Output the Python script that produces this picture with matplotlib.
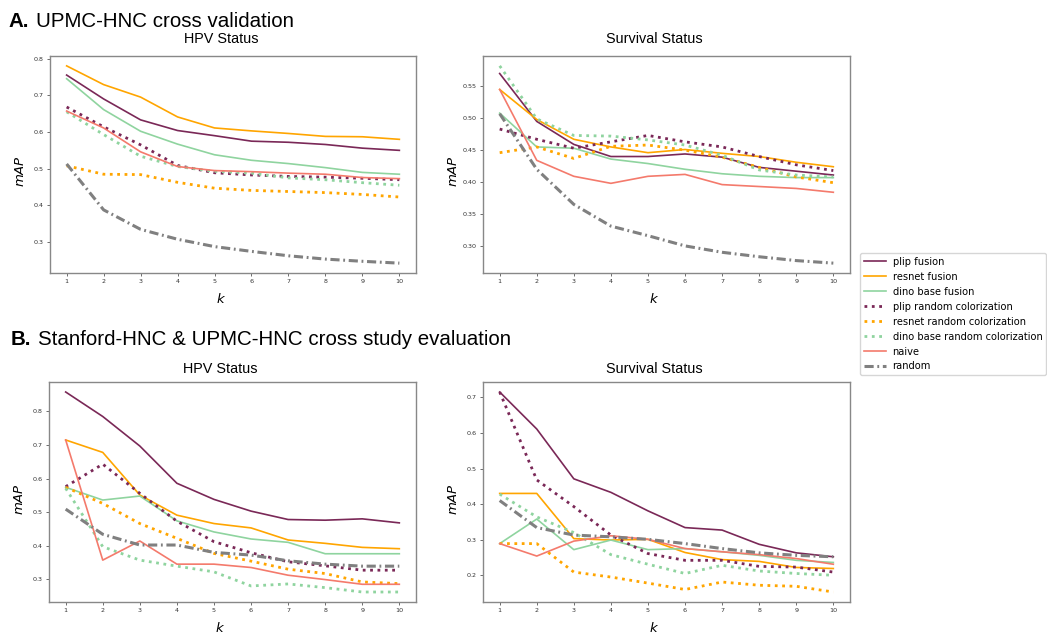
import matplotlib.pyplot as plt
from matplotlib.ticker import MultipleLocator

k = [1, 2, 3, 4, 5, 6, 7, 8, 9, 10]

# A. UPMC-HNC cross validation - HPV status
a_hpv_plip = [0.755, 0.690, 0.633, 0.604, 0.590, 0.575, 0.572, 0.566, 0.556, 0.550]
a_hpv_resnet = [0.780, 0.729, 0.695, 0.641, 0.611, 0.603, 0.596, 0.588, 0.587, 0.580]
a_hpv_dino = [0.745, 0.661, 0.602, 0.567, 0.538, 0.523, 0.514, 0.503, 0.490, 0.485]
a_hpv_plip_rc = [0.668, 0.614, 0.565, 0.509, 0.489, 0.483, 0.479, 0.477, 0.474, 0.470]
a_hpv_resnet_rc = [0.508, 0.485, 0.484, 0.463, 0.447, 0.441, 0.438, 0.435, 0.430, 0.423]
a_hpv_dino_rc = [0.655, 0.593, 0.534, 0.506, 0.493, 0.488, 0.475, 0.470, 0.462, 0.455]
a_hpv_naive = [0.657, 0.611, 0.546, 0.506, 0.495, 0.492, 0.488, 0.485, 0.476, 0.473]
a_hpv_random = [0.513, 0.388, 0.335, 0.308, 0.288, 0.275, 0.263, 0.254, 0.248, 0.243]

# A. UPMC-HNC cross validation - survival status
a_surv_plip = [0.570, 0.495, 0.459, 0.440, 0.440, 0.444, 0.439, 0.423, 0.417, 0.411]
a_surv_resnet = [0.545, 0.498, 0.467, 0.455, 0.446, 0.451, 0.445, 0.440, 0.431, 0.424]
a_surv_dino = [0.508, 0.455, 0.453, 0.436, 0.429, 0.420, 0.413, 0.409, 0.407, 0.407]
a_surv_plip_rc = [0.483, 0.467, 0.453, 0.463, 0.473, 0.463, 0.455, 0.440, 0.427, 0.418]
a_surv_resnet_rc = [0.446, 0.455, 0.437, 0.456, 0.458, 0.450, 0.439, 0.423, 0.408, 0.399]
a_surv_dino_rc = [0.582, 0.499, 0.473, 0.472, 0.466, 0.458, 0.442, 0.419, 0.411, 0.408]
a_surv_naive = [0.545, 0.434, 0.409, 0.398, 0.409, 0.412, 0.396, 0.393, 0.390, 0.384]
a_surv_random = [0.507, 0.420, 0.365, 0.331, 0.316, 0.300, 0.290, 0.283, 0.277, 0.273]

# B. Stanford-HNC & UPMC-HNC cross study - HPV status
b_hpv_plip = [0.858, 0.785, 0.697, 0.586, 0.538, 0.503, 0.478, 0.476, 0.480, 0.468]
b_hpv_resnet = [0.715, 0.678, 0.551, 0.491, 0.466, 0.453, 0.417, 0.407, 0.395, 0.391]
b_hpv_dino = [0.574, 0.536, 0.548, 0.474, 0.441, 0.420, 0.410, 0.376, 0.376, 0.376]
b_hpv_plip_rc = [0.576, 0.643, 0.556, 0.473, 0.412, 0.379, 0.352, 0.340, 0.327, 0.327]
b_hpv_resnet_rc = [0.574, 0.526, 0.466, 0.422, 0.377, 0.354, 0.330, 0.317, 0.292, 0.287]
b_hpv_dino_rc = [0.571, 0.397, 0.357, 0.339, 0.322, 0.280, 0.286, 0.275, 0.262, 0.262]
b_hpv_naive = [0.715, 0.357, 0.414, 0.345, 0.345, 0.335, 0.312, 0.299, 0.285, 0.285]
b_hpv_random = [0.509, 0.434, 0.402, 0.402, 0.380, 0.372, 0.355, 0.345, 0.339, 0.339]

# B. Stanford-HNC & UPMC-HNC cross study - survival status
b_surv_plip = [0.715, 0.611, 0.471, 0.433, 0.381, 0.334, 0.327, 0.287, 0.263, 0.252]
b_surv_resnet = [0.430, 0.430, 0.303, 0.299, 0.301, 0.264, 0.244, 0.239, 0.222, 0.219]
b_surv_dino = [0.289, 0.358, 0.272, 0.299, 0.272, 0.275, 0.266, 0.256, 0.242, 0.236]
b_surv_plip_rc = [0.715, 0.468, 0.393, 0.313, 0.261, 0.242, 0.242, 0.225, 0.223, 0.209]
b_surv_resnet_rc = [0.289, 0.289, 0.209, 0.195, 0.178, 0.160, 0.181, 0.172, 0.169, 0.153]
b_surv_dino_rc = [0.428, 0.364, 0.320, 0.258, 0.231, 0.205, 0.228, 0.212, 0.205, 0.200]
b_surv_naive = [0.289, 0.254, 0.296, 0.311, 0.301, 0.275, 0.266, 0.258, 0.247, 0.231]
b_surv_random = [0.410, 0.334, 0.313, 0.308, 0.301, 0.289, 0.275, 0.263, 0.256, 0.252]

labels = ["plip fusion", "resnet fusion", "dino base fusion",
          "plip random colorization", "resnet random colorization",
          "dino base random colorization", "naive", "random"]

purple = "#7a2857"
orange = "#ffa500"
green = "#8fd49f"
salmon = "#f47a6c"
gray = "#808080"

styles = [
    dict(color=purple, lw=1.2, ls="-"),
    dict(color=orange, lw=1.2, ls="-"),
    dict(color=green, lw=1.2, ls="-"),
    dict(color=purple, lw=2.0, ls=":"),
    dict(color=orange, lw=2.0, ls=":"),
    dict(color=green, lw=2.0, ls=":"),
    dict(color=salmon, lw=1.2, ls="-"),
    dict(color=gray, lw=2.2, ls=(0, (3, 1.2, 0.6, 1.2))),
]

panels = [
    ([a_hpv_plip, a_hpv_resnet, a_hpv_dino, a_hpv_plip_rc, a_hpv_resnet_rc,
      a_hpv_dino_rc, a_hpv_naive, a_hpv_random], "HPV Status", 0.1,
     [50, 56, 366, 217], 9.4),
    ([a_surv_plip, a_surv_resnet, a_surv_dino, a_surv_plip_rc, a_surv_resnet_rc,
      a_surv_dino_rc, a_surv_naive, a_surv_random], "Survival Status", 0.05,
     [483, 56, 367, 217], 9.4),
    ([b_hpv_plip, b_hpv_resnet, b_hpv_dino, b_hpv_plip_rc, b_hpv_resnet_rc,
      b_hpv_dino_rc, b_hpv_naive, b_hpv_random], "HPV Status", 0.1,
     [49, 382, 367, 220], 6.5),
    ([b_surv_plip, b_surv_resnet, b_surv_dino, b_surv_plip_rc, b_surv_resnet_rc,
      b_surv_dino_rc, b_surv_naive, b_surv_random], "Survival Status", 0.1,
     [483, 382, 367, 220], 6.5),
]

W, H = 1047, 634
fig = plt.figure(figsize=(W / 100, H / 100), dpi=100)

handles = []
for series, title, step, (x0, y0, w, h), pad in panels:
    ax = fig.add_axes([x0 / W, 1 - (y0 + h) / H, w / W, h / H])
    handles = []
    for vals, st in zip(series, styles):
        ln, = ax.plot(k, vals, **st)
        handles.append(ln)
    ax.set_xticks(k)
    ax.yaxis.set_major_locator(MultipleLocator(step))
    ax.tick_params(labelsize=4.6, length=2.5, width=0.6, color="#555555",
                   labelcolor="#333333", pad=2)
    for sp in ax.spines.values():
        sp.set_color("#888888")
        sp.set_linewidth(1.0)
    ax.set_title(title, x=0.467, pad=pad, fontsize=10.4, family="Liberation Sans")
    ax.set_xlabel("$k$", fontsize=9.5)
    ax.set_ylabel("$mAP$", fontsize=9.5)
    ax.xaxis.set_label_coords(0.467, -0.088)
    ax.yaxis.set_label_coords(-0.062, 0.47)

# section headers
fig.text(8 / W, 1 - 27 / H, "A.", fontsize=14.8, fontweight="bold",
         family="Liberation Sans", va="baseline")
fig.text(36 / W, 1 - 27 / H, "UPMC-HNC cross validation", fontsize=14.8,
         family="Liberation Sans", va="baseline")
fig.text(11 / W, 1 - 345 / H, "B.", fontsize=14.8, fontweight="bold",
         family="Liberation Sans", va="baseline")
fig.text(38 / W, 1 - 345 / H, "Stanford-HNC & UPMC-HNC cross study evaluation",
         fontsize=14.8, family="Liberation Sans", va="baseline")

fig.legend(handles, labels, loc="upper left",
           bbox_to_anchor=(860 / W, 1 - 253 / H), borderaxespad=0,
           fontsize=7.1, labelspacing=0.5, handlelength=2.2,
           handletextpad=0.7)

fig.savefig("out.png", dpi=100)
